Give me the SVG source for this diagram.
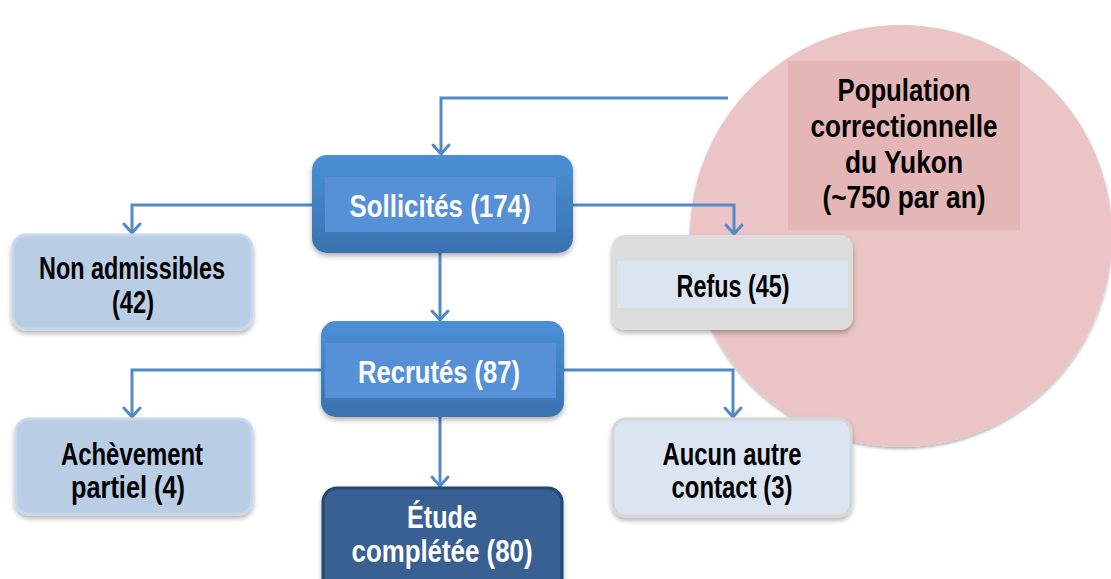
<svg xmlns="http://www.w3.org/2000/svg" width="1111" height="579" viewBox="0 0 1111 579">
<defs>
<linearGradient id="gBlue" x1="0" y1="0" x2="0" y2="1">
<stop offset="0" stop-color="#4a90d6"/>
<stop offset="1" stop-color="#3a72b0"/>
</linearGradient>
<filter id="sh" x="-10%" y="-10%" width="120%" height="130%">
<feDropShadow dx="0" dy="3" stdDeviation="2.5" flood-color="#000" flood-opacity="0.3"/>
</filter>
<filter id="shc" x="-10%" y="-10%" width="120%" height="120%">
<feDropShadow dx="0" dy="2" stdDeviation="1.5" flood-color="#000" flood-opacity="0.3"/>
</filter>
</defs>
<style>
.t{font-family:"Liberation Sans",Arial,sans-serif;font-weight:bold;font-size:31px;text-anchor:middle}
.big{font-size:32px}
.w{fill:#ffffff}
.k{fill:#000000}
.conn{fill:none;stroke:#5289c7;stroke-width:3}
.head{fill:none;stroke:#5289c7;stroke-width:3;stroke-linecap:round;stroke-linejoin:round}
.blue{fill:url(#gBlue);filter:url(#sh)}
.blueIn{fill:#5690d7}
.light{fill:#b9cde5;stroke:#c8d8eb;stroke-width:3;filter:url(#sh)}
.grey{fill:#dcdcdc;filter:url(#sh)}
.pale{fill:#dbe5f1}
</style>
<rect width="1111" height="579" fill="#ffffff"/>
<g id="population">
<circle cx="901" cy="236" r="211" fill="#ebc5c5" filter="url(#shc)"/>
<rect x="788" y="61" width="232" height="169" fill="#e5b6b6"/>
<text class="t k" x="904" y="101" textLength="133" lengthAdjust="spacingAndGlyphs">Population</text>
<text class="t k" x="904" y="137" textLength="187" lengthAdjust="spacingAndGlyphs">correctionnelle</text>
<text class="t k" x="904" y="173" textLength="118" lengthAdjust="spacingAndGlyphs">du Yukon</text>
<text class="t k" x="904" y="208" textLength="163" lengthAdjust="spacingAndGlyphs">(~750 par an)</text>
</g>
<g id="connectors">
<path class="conn" d="M728 98 H441 V153"/>
<path class="conn" d="M312 205 H132 V232"/>
<path class="conn" d="M573 205 H734 V233"/>
<path class="conn" d="M440 253 V319"/>
<path class="conn" d="M321 370 H132 V416"/>
<path class="conn" d="M564 370 H733 V416"/>
<path class="conn" d="M440 417 V485"/>
<path class="head" d="M433 145 L441 154 L449 145"/>
<path class="head" d="M124 224 L132 233 L140 224"/>
<path class="head" d="M726 225 L734 234 L742 225"/>
<path class="head" d="M432 311 L440 320 L448 311"/>
<path class="head" d="M124 408 L132 417 L140 408"/>
<path class="head" d="M725 408 L733 417 L741 408"/>
<path class="head" d="M432 477 L440 486 L448 477"/>
</g>
<g id="sollicites">
<rect class="blue" x="312" y="155" width="261" height="98" rx="15"/>
<rect class="blueIn" x="325" y="177" width="231" height="55"/>
<text class="t w big" x="440" y="217" textLength="181" lengthAdjust="spacingAndGlyphs">Sollicités (174)</text>
</g>
<g id="non-admissibles">
<rect class="light" x="13" y="235" width="239" height="94" rx="13"/>
<text class="t k" x="132" y="279" textLength="186" lengthAdjust="spacingAndGlyphs">Non admissibles</text>
<text class="t k" x="133" y="313" textLength="42" lengthAdjust="spacingAndGlyphs">(42)</text>
</g>
<g id="refus">
<rect class="grey" x="612" y="235" width="241" height="95" rx="13"/>
<rect class="pale" x="617" y="261" width="231" height="47"/>
<text class="t k" x="733" y="297" textLength="113" lengthAdjust="spacingAndGlyphs">Refus (45)</text>
</g>
<g id="recrutes">
<rect class="blue" x="321" y="321" width="243" height="96" rx="15"/>
<rect class="blueIn" x="325" y="343" width="231" height="55"/>
<text class="t w big" x="439" y="383" textLength="162" lengthAdjust="spacingAndGlyphs">Recrutés (87)</text>
</g>
<g id="achevement">
<rect class="light" x="16" y="419" width="236" height="95" rx="13"/>
<text class="t k" x="132" y="465" textLength="142" lengthAdjust="spacingAndGlyphs">Achèvement</text>
<text class="t k" x="128" y="498" textLength="114" lengthAdjust="spacingAndGlyphs">partiel (4)</text>
</g>
<g id="aucun-contact">
<rect x="613" y="419" width="238" height="97" rx="13" fill="#dbe5f1" stroke="#d6d6d6" stroke-width="3" filter="url(#sh)"/>
<text class="t k" x="732" y="465" textLength="139" lengthAdjust="spacingAndGlyphs">Aucun autre</text>
<text class="t k" x="732" y="498" textLength="121" lengthAdjust="spacingAndGlyphs">contact (3)</text>
</g>
<g id="etude">
<rect x="323" y="488" width="239" height="110" rx="14" fill="#376092" stroke="#23466f" stroke-width="3" filter="url(#sh)"/>
<text class="t w" x="442" y="528" textLength="70" lengthAdjust="spacingAndGlyphs">Étude</text>
<text class="t w" x="442" y="562" textLength="181" lengthAdjust="spacingAndGlyphs">complétée (80)</text>
</g>
</svg>
